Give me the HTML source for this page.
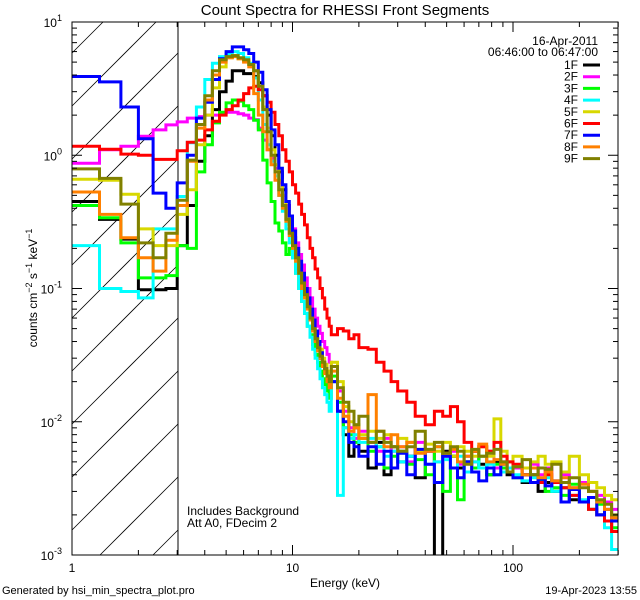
<!DOCTYPE html>
<html><head><meta charset="utf-8"><style>
html,body{margin:0;padding:0;background:#fff;width:640px;height:600px;overflow:hidden;}
svg{display:block;font-family:"Liberation Sans",sans-serif;}
</style></head><body>
<svg id="chart" width="640" height="600" viewBox="0 0 640 600" xmlns="http://www.w3.org/2000/svg">
<rect x="0" y="0" width="640" height="600" fill="#fff"/>
<text x="345" y="15" font-size="15" text-anchor="middle">Count Spectra for RHESSI Front Segments</text>
<defs><clipPath id="plotclip"><rect x="72" y="22" width="546" height="533"/></clipPath></defs>
<g id="hatch"></g>
<line x1="178" y1="22" x2="178" y2="555" stroke="#000" stroke-width="1"/>
<g id="series" clip-path="url(#plotclip)"></g>
<rect x="72" y="22" width="546" height="533" fill="none" stroke="#000" stroke-width="1"/>
<g id="axes"></g>
<text x="598" y="45" font-size="12" text-anchor="end">16-Apr-2011</text>
<text x="598" y="56" font-size="12" text-anchor="end">06:46:00 to 06:47:00</text>
<g id="legend"></g>
<text x="187" y="515" font-size="12">Includes Background</text>
<text x="187" y="527" font-size="12">Att A0, FDecim 2</text>
<text x="345" y="587" font-size="12" text-anchor="middle">Energy (keV)</text>
<text transform="translate(37,288) rotate(-90)" font-size="12" text-anchor="middle">counts cm<tspan dy="-5" font-size="9">−2</tspan><tspan dy="5"> s</tspan><tspan dy="-5" font-size="9">−1</tspan><tspan dy="5"> keV</tspan><tspan dy="-5" font-size="9">−1</tspan></text>
<text x="2" y="594" font-size="11">Generated by hsi_min_spectra_plot.pro</text>
<text x="637" y="594" font-size="11" text-anchor="end">19-Apr-2023 13:55</text>
</svg>
<script>
const energyEdges=[1,1.333,1.667,2,2.333,2.667,3,3.333,3.667,4,4.333,4.667,5,5.333,5.667,6,6.333,6.667,7,7.333,7.667,8,8.333,8.667,9,9.333,9.667,10,10.333,10.667,11,11.333,11.667,12,12.333,12.667,13,13.333,13.667,14,14.333,14.667,15,16,17,18,19,20,22,24,26,28,30,33,36,40,44,48,52,56,60,65,70,76,82,88,94,100,110,120,130,140,150,165,180,200,220,240,260,280,300];
const seriesNames=["1F","2F","3F","4F","5F","6F","7F","8F","9F"];
const seriesColors=["#000000","#ff00ff","#00ff00","#00ffff","#d8d800","#ff0000","#0000ff","#ff8000","#808000"];
const s1F=[0.45,0.33,0.235,0.098,0.098,0.10, 0.21,0.42,0.9,1.4,2.2,3.0,3.6,4.3,4.3,4.1,4.1,3.9,3.5,2.8,2.0,1.4,1.0,0.75,0.55,0.42,0.3,0.24,0.18,0.14,0.11,0.09,0.075,0.06,0.05,0.042,0.035,0.03,0.026,0.023,0.02,0.018, 0.02,0.012,0.008,0.0055,0.009,0.006,0.0045,0.007,0.004,0.0065,0.005,0.0055,0.0038,0.006,0.0008,0.006,0.0055,0.0045,0.005,0.006,0.0048,0.004,0.005,0.0045,0.004,0.0045,0.0035,0.004,0.003,0.0035,0.003,0.0032,0.0026,0.0025,0.0022,0.002,0.0018,0.0015];
const s2F=[0.87,1.1,1.17,1.39,1.55,1.69, 1.78,1.9,1.95,2.0,2.0,2.05,2.1,2.1,2.05,2.0,1.9,1.85,1.6,1.3,1.1,0.95,0.8,0.62,0.5,0.42,0.35,0.28,0.22,0.18,0.15,0.12,0.1,0.085,0.07,0.06,0.052,0.046,0.04,0.036,0.032,0.028, 0.026,0.017,0.012,0.009,0.0075,0.0085,0.007,0.006,0.0075,0.006,0.0065,0.005,0.007,0.006,0.005,0.0055,0.006,0.0048,0.0055,0.005,0.0045,0.006,0.0045,0.005,0.0042,0.0045,0.004,0.0048,0.004,0.0045,0.0035,0.004,0.0032,0.0035,0.003,0.0028,0.0025,0.0022];
const s3F=[0.42,0.34,0.22,0.12,0.12,0.125, 0.21,0.2,0.75,1.2,1.75,2.1,2.47,2.6,2.55,2.35,2.2,1.83,1.55,0.92,0.62,0.45,0.31,0.27,0.22,0.18,0.2,0.17,0.13,0.1,0.08,0.065,0.052,0.045,0.038,0.032,0.028,0.024,0.021,0.019,0.017,0.015, 0.022,0.014,0.009,0.008,0.007,0.0075,0.006,0.0065,0.0045,0.0055,0.006,0.0048,0.0052,0.004,0.0065,0.003,0.0055,0.0026,0.005,0.0045,0.0055,0.004,0.0048,0.0045,0.0042,0.0038,0.004,0.0035,0.0036,0.003,0.0032,0.0028,0.0034,0.0025,0.0022,0.0024,0.0018,0.0016];
const s4F=[0.21,0.10,0.095,0.085,0.28,0.28, 0.49,1.24,2.3,3.7,4.9,5.5,5.75,6.0,5.8,5.4,4.9,3.8,2.6,1.7,1.2,0.9,0.7,0.5,0.38,0.28,0.22,0.17,0.13,0.1,0.08,0.065,0.052,0.043,0.035,0.03,0.025,0.021,0.018,0.016,0.014,0.012, 0.02,0.0028,0.009,0.0075,0.008,0.007,0.0075,0.0065,0.0055,0.006,0.005,0.0055,0.006,0.0048,0.005,0.0052,0.0045,0.0055,0.0042,0.005,0.0045,0.0048,0.004,0.0042,0.0045,0.004,0.0036,0.0038,0.0035,0.0038,0.003,0.0032,0.0028,0.0026,0.0022,0.002,0.0016,0.0011];
const s5F=[0.66,0.65,0.51,0.28,0.21,0.21, 0.36,0.55,1.2,2.0,3.2,4.6,5.4,5.6,5.3,5.1,4.8,4.3,3.3,2.3,1.6,1.1,0.85,0.65,0.5,0.38,0.3,0.24,0.19,0.15,0.12,0.1,0.08,0.065,0.055,0.046,0.04,0.035,0.03,0.027,0.024,0.021, 0.028,0.02,0.013,0.01,0.0095,0.008,0.0085,0.0075,0.008,0.0065,0.0075,0.007,0.006,0.0068,0.006,0.007,0.0055,0.0065,0.006,0.0055,0.0065,0.0055,0.0105,0.006,0.005,0.0055,0.0045,0.005,0.0055,0.0048,0.005,0.0042,0.0055,0.004,0.0035,0.0032,0.0028,0.0026];
const s6F=[1.17,1.11,1.02,1.0,0.93,0.93, 1.08,1.25,1.3,1.55,1.8,2.0,2.2,2.35,2.6,2.9,3.2,3.3,3.1,2.8,2.5,2.1,1.7,1.4,1.1,0.9,0.75,0.6,0.52,0.43,0.36,0.3,0.24,0.2,0.17,0.14,0.12,0.1,0.085,0.07,0.06,0.052, 0.045,0.05,0.048,0.042,0.045,0.036,0.035,0.028,0.024,0.02,0.017,0.014,0.011,0.0095,0.012,0.011,0.013,0.010,0.007,0.006,0.0065,0.006,0.007,0.0055,0.005,0.0048,0.004,0.0045,0.0035,0.004,0.0035,0.0032,0.0028,0.0025,0.0022,0.002,0.0018,0.0015];
const s7F=[3.9,3.55,2.3,1.33,0.52,0.40, 0.62,1.0,1.9,2.5,3.7,5.3,6.0,6.5,6.5,6.2,5.8,5.0,4.2,3.1,2.2,1.55,1.2,0.8,0.6,0.45,0.35,0.27,0.2,0.16,0.13,0.1,0.085,0.07,0.058,0.048,0.04,0.033,0.028,0.025,0.022,0.02, 0.02,0.012,0.01,0.007,0.0065,0.0055,0.0065,0.0048,0.006,0.0045,0.0058,0.004,0.0062,0.0048,0.0035,0.0055,0.0045,0.0038,0.005,0.0042,0.0036,0.0045,0.004,0.0048,0.0042,0.0038,0.004,0.0035,0.0037,0.0033,0.0036,0.0025,0.0031,0.0025,0.0027,0.002,0.0022,0.0018];
const s8F=[0.53,0.36,0.24,0.17,0.135,0.23, 0.42,0.9,1.6,2.6,4.0,5.0,5.4,5.5,5.3,5.0,4.6,2.9,2.0,1.5,1.1,0.85,0.65,0.5,0.4,0.32,0.25,0.2,0.16,0.13,0.1,0.085,0.07,0.058,0.048,0.04,0.034,0.03,0.026,0.023,0.02,0.018, 0.024,0.015,0.011,0.0085,0.009,0.0075,0.016,0.0085,0.0065,0.008,0.0065,0.007,0.0058,0.006,0.0065,0.0058,0.0062,0.005,0.0055,0.006,0.0068,0.005,0.0052,0.0048,0.0042,0.0046,0.004,0.0045,0.0038,0.0042,0.0036,0.0038,0.0032,0.0034,0.003,0.0025,0.0022,0.0019];
const s9F=[0.79,0.67,0.43,0.22,0.17,0.26, 0.46,0.92,1.7,2.8,4.3,5.2,5.5,5.6,5.4,5.2,4.8,4.3,3.3,2.2,1.5,1.0,0.75,0.55,0.42,0.33,0.26,0.21,0.17,0.13,0.11,0.09,0.073,0.06,0.05,0.042,0.036,0.031,0.028,0.025,0.022,0.02, 0.026,0.018,0.014,0.012,0.0095,0.011,0.007,0.0085,0.007,0.0065,0.006,0.0065,0.0085,0.0062,0.007,0.0058,0.0065,0.006,0.0048,0.0062,0.0055,0.0058,0.0062,0.005,0.0042,0.0046,0.0052,0.004,0.0045,0.0044,0.0048,0.0035,0.0038,0.0032,0.003,0.0026,0.0024,0.002];
const seriesValues=[s1F,s2F,s3F,s4F,s5F,s6F,s7F,s8F,s9F];
const xTickLabels=["1","10","100"];
const yTickExps=[1,0,-1,-2,-3];

const NS="http://www.w3.org/2000/svg";
const L=72,R=618,T=22,B=555,HX=178;
const XDEC=220.5, YDEC=(B-T)/4;
function xs(e){return L+Math.log10(e)*XDEC;}
function ys(v){return T+(1-Math.log10(Math.max(v,1e-4)))*YDEC;}
function mk(tag,attrs,parent){const el=document.createElementNS(NS,tag);for(const k in attrs)el.setAttribute(k,attrs[k]);parent.appendChild(el);return el;}

// hatch ("/" direction), endpoints clipped to hatch rectangle
const hatch=document.getElementById('hatch');
for(let c=0;c<B+(HX-L)+60;c+=53){
  // line: y = c - (x - L)
  let xa=L, ya=c, xb=HX, yb=c-(HX-L);
  if(ya>B){xa=L+(ya-B); ya=B;}
  if(yb<T){xb=L+(c-T); yb=T;}
  if(xa>=xb) continue;
  const ln=mk('line',{x1:xa,y1:ya,x2:xb,y2:yb,stroke:'#000','stroke-width':0.8},hatch);
  
  
}

// series
const sg=document.getElementById('series');
seriesValues.forEach((vals,si)=>{
  let d='';
  vals.forEach((v,i)=>{
    const x0=xs(energyEdges[i]),x1=xs(energyEdges[i+1]),y=Math.min(ys(v),B+2);
    d+=(i===0?'M':'L')+x0.toFixed(1)+','+y.toFixed(1)+'L'+x1.toFixed(1)+','+y.toFixed(1);
  });
  const p=mk('path',{d:d,fill:'none',stroke:seriesColors[si],'stroke-width':3,'stroke-linejoin':'miter'},sg);
  
  
});

// axes ticks
const ax=document.getElementById('axes');
for(let dec=0;dec<3;dec++){
  for(let m=1;m<10;m++){
    const e=m*Math.pow(10,dec); if(e>300||(dec===0&&m===1))continue;
    const x=xs(e), len=(m===1)?10:5;
    const t1=mk('line',{x1:x,y1:B,x2:x,y2:B-len,stroke:'#000'},ax);
    
    
    const t2=mk('line',{x1:x,y1:T,x2:x,y2:T+len,stroke:'#000'},ax);
    
    
  }
}
xTickLabels.forEach(s=>{
  const t=mk('text',{x:xs(parseFloat(s)),y:572,'font-size':12,'text-anchor':'middle'},ax);
  t.textContent=s;
  
  
});
for(let ex=-3;ex<1;ex++){
  for(let m=2;m<10;m++){
    const v=m*Math.pow(10,ex); const y=ys(v); const len=5;
    const a=mk('line',{x1:L,y1:y,x2:L+len,y2:y,stroke:'#000'},ax);
    
    
    const b=mk('line',{x1:R,y1:y,x2:R-len,y2:y,stroke:'#000'},ax);
    
    
  }
}
yTickExps.forEach(ex=>{
  const y=ys(Math.pow(10,ex));
  const a=mk('line',{x1:L,y1:y,x2:L+10,y2:y,stroke:'#000'},ax);
  
  
  const b=mk('line',{x1:R,y1:y,x2:R-10,y2:y,stroke:'#000'},ax);
  
  
  const t=mk('text',{x:62,y:y+5,'font-size':12,'text-anchor':'end'},ax);
  t.innerHTML='10<tspan dy="-6" font-size="9">'+ex+'</tspan>';
  
  
});

// legend
const lg=document.getElementById('legend');
seriesNames.forEach((n,i)=>{
  const y=65+i*11.7;
  const t=mk('text',{x:578,y:y+4,'font-size':12,'text-anchor':'end'},lg);
  t.textContent=n;
  
  
  const l=mk('line',{x1:583,y1:y,x2:600,y2:y,stroke:seriesColors[i],'stroke-width':3},lg);
  
  
});
</script>
</body></html>
